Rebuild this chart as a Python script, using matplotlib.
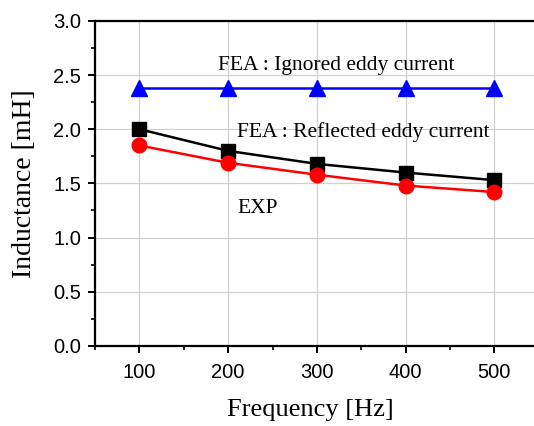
import matplotlib
matplotlib.use("Agg")
import matplotlib.pyplot as plt
from matplotlib.ticker import MultipleLocator

freq = [100, 200, 300, 400, 500]
fea_ignored = [2.38, 2.38, 2.38, 2.38, 2.38]
fea_reflected = [2.00, 1.80, 1.68, 1.60, 1.53]
exp = [1.85, 1.69, 1.58, 1.48, 1.42]

xticks = [100, 200, 300, 400, 500]
yticks = [0.0, 0.5, 1.0, 1.5, 2.0, 2.5, 3.0]

fig = plt.figure(figsize=(5.34, 4.26), dpi=100)
ax = fig.add_axes([0.178, 0.188, 0.831, 0.763])

ax.plot(freq, fea_ignored, color="#0000ff", lw=1.8, marker="^", ms=12, zorder=3)
ax.plot(freq, fea_reflected, color="black", lw=1.8, marker="s", ms=9.5, zorder=3)
ax.plot(freq, exp, color="#ff0000", lw=1.8, marker="o", ms=10.5, zorder=3)

ax.set_xlim(50, 550)
ax.set_ylim(0, 3.0)
ax.set_xticks(xticks)
ax.set_yticks(yticks)
ax.set_yticklabels([f"{v:.1f}" for v in yticks])
ax.xaxis.set_minor_locator(MultipleLocator(50))
ax.yaxis.set_minor_locator(MultipleLocator(0.25))
ax.grid(True, which="major", color="#d0d0d0", lw=0.9)
ax.set_axisbelow(True)

for s in ["left", "bottom", "top", "right"]:
    ax.spines[s].set_linewidth(1.6)

ax.tick_params(which="major", direction="out", length=5, width=1.4,
               labelsize=14.5, top=False, right=False)
ax.tick_params(axis="x", which="major", pad=7)
ax.tick_params(axis="y", which="major", pad=5)
ax.tick_params(which="minor", direction="out", length=3, width=1.2,
               top=False, right=False)
for lbl in ax.get_xticklabels() + ax.get_yticklabels():
    lbl.set_fontfamily("Liberation Sans")

serif = "Liberation Serif"
ax.set_xlabel("Frequency [Hz]", fontfamily=serif, fontsize=19)
ax.set_ylabel("Inductance [mH]", fontfamily=serif, fontsize=20)
ax.xaxis.set_label_coords((310 - 95) / (0.831 * 534), (346 - 410) / (0.763 * 426))
ax.yaxis.set_label_coords((24 - 95) / (0.831 * 534), 0.5)
ax.xaxis.label.set_va("center")
ax.yaxis.label.set_va("center")

ax.text(188.6, 2.548, "FEA : Ignored eddy current", fontfamily=serif,
        fontsize=15.5, va="baseline", ha="left")
ax.text(210, 1.93, "FEA : Reflected eddy current", fontfamily=serif,
        fontsize=15.5, va="baseline", ha="left")
ax.text(210, 1.228, "EXP", fontfamily=serif,
        fontsize=15.5, va="baseline", ha="left")

fig.savefig("out.png", dpi=100)
